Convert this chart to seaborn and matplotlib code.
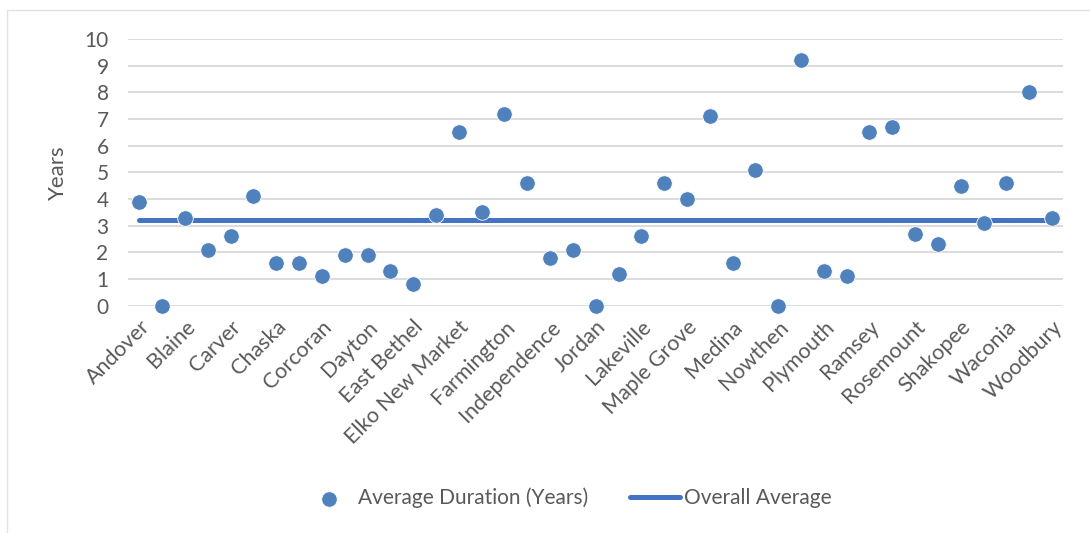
import matplotlib
matplotlib.use("Agg")
import matplotlib.pyplot as plt
import seaborn as sns
import pandas as pd
import numpy as np
from matplotlib.patches import Rectangle

# ---- data ----
cities = [
    "Andover", "Anoka", "Blaine", "Burnsville", "Carver", "Chanhassen", "Chaska",
    "Coon Rapids", "Corcoran", "Cottage Grove", "Dayton", "Eagan", "East Bethel",
    "Eden Prairie", "Elko New Market", "Empire", "Farmington", "Forest Lake",
    "Independence", "Inver Grove Heights", "Jordan", "Lake Elmo", "Lakeville",
    "Lino Lakes", "Maple Grove", "Maplewood", "Medina", "Minnetonka", "Nowthen",
    "Oak Grove", "Plymouth", "Prior Lake", "Ramsey", "Rogers", "Rosemount",
    "Savage", "Shakopee", "Victoria", "Waconia", "White Bear Lake", "Woodbury",
]
avg_duration = [
    3.9, 0.0, 3.3, 2.1, 2.6, 4.1, 1.6, 1.6, 1.1, 1.9, 1.9, 1.3, 0.8, 3.4,
    6.5, 3.5, 7.2, 4.6, 1.8, 2.1, 0.0, 1.2, 2.6, 4.6, 4.0, 7.1, 1.6, 5.1,
    0.0, 9.2, 1.3, 1.1, 6.5, 6.7, 2.7, 2.3, 4.5, 3.1, 4.6, 8.0, 3.3,
]
overall_average = 3.2
y_ticks = list(range(0, 11))

df = pd.DataFrame({
    "pos": np.arange(len(cities)),
    "city": cities,
    "duration": avg_duration,
    "overall": [overall_average] * len(cities),
})

# ---- style ----
sns.set_theme(style="white")
plt.rcParams["font.family"] = ["Lato", "DejaVu Sans"]
text_color = "#595959"

fig = plt.figure(figsize=(10.9, 5.33), dpi=100)
ax = fig.add_axes([128 / 1090, 1 - 305.7 / 533, (1063.4 - 128) / 1090, (305.7 - 39) / 533])

# chart frame
fig.patches.append(Rectangle((7 / 1090, -0.05), 1.2, (533 - 10) / 533 + 0.05,
                             transform=fig.transFigure, fill=False,
                             edgecolor="#e3e3e3", linewidth=1.0, zorder=0))

sns.lineplot(data=df, x="pos", y="overall", ax=ax, color="#4472C4",
             linewidth=3.6, solid_capstyle="round", label="Overall Average", zorder=3)
sns.scatterplot(data=df, x="pos", y="duration", ax=ax, color="#4F81BD",
                s=125, edgecolor="white", linewidth=0.6,
                label="Average Duration (Years)", zorder=4, clip_on=False)

ax.set_xlim(-0.5, len(cities) - 0.5)
ax.set_ylim(y_ticks[0], y_ticks[-1])
ax.set_yticks(y_ticks)
ax.set_yticklabels([str(t) for t in y_ticks], fontsize=15, color=text_color)
ax.yaxis.grid(True, color="#d9d9d9", linewidth=1.3)
ax.set_axisbelow(True)
for sp in ax.spines.values():
    sp.set_visible(False)
ax.tick_params(axis="y", length=0, pad=14)
ax.tick_params(axis="x", length=0, pad=8)

ax.set_xticks(df["pos"][::2])
ax.set_xticklabels(df["city"][::2], rotation=45, ha="right",
                   rotation_mode="anchor", fontsize=15.5, color=text_color)
ax.set_xlabel("")
ax.set_ylabel("Years", fontsize=16, color=text_color, labelpad=12)

# legend
h, l = ax.get_legend_handles_labels()
order = [l.index("Average Duration (Years)"), l.index("Overall Average")]
leg = fig.legend([h[i] for i in order], [l[i] for i in order],
                 loc="center", bbox_to_anchor=(568 / 1090, 1 - 498 / 533),
                 ncol=2, frameon=False, fontsize=15, handlelength=2.4,
                 handletextpad=0.2, columnspacing=2.0, markerscale=1.0)
for t in leg.get_texts():
    t.set_color(text_color)
if ax.get_legend():
    ax.get_legend().remove()

fig.savefig("out.png", dpi=100, facecolor="white")
